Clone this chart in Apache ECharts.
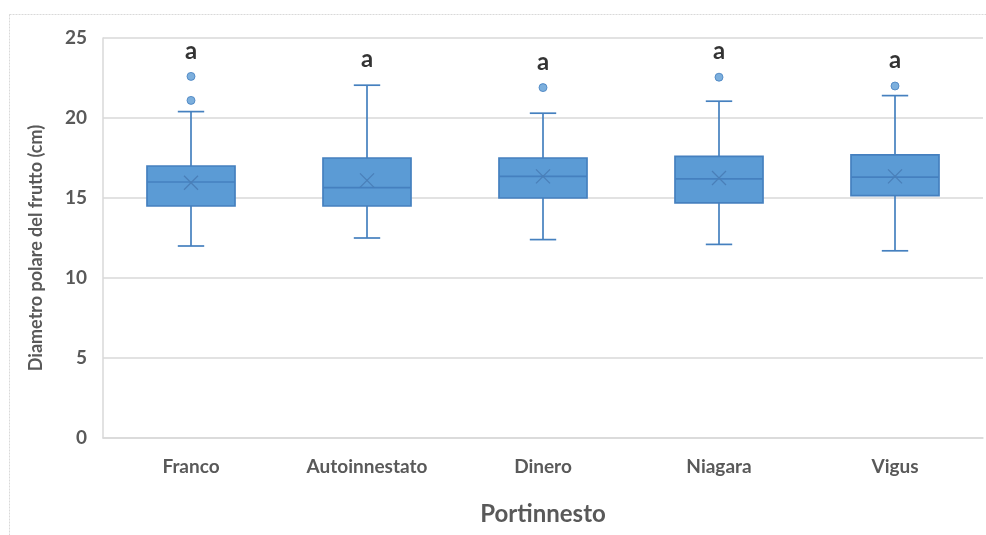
<!DOCTYPE html>
<html>
<head>
<meta charset="utf-8">
<script src="https://cdn.jsdelivr.net/npm/echarts@6/dist/echarts.min.js"></script>
<style>
html,body{margin:0;padding:0;background:#fff;}
#chart{width:986px;height:535px;}
</style>
</head>
<body>
<div id="chart"></div>
<script>
const categories = ['Franco', 'Autoinnestato', 'Dinero', 'Niagara', 'Vigus'];
// [min, Q1, median, Q3, max]
const boxStats = [
  [12.0, 14.5, 16.0, 17.0, 20.4],
  [12.5, 14.5, 15.65, 17.5, 22.05],
  [12.4, 15.0, 16.35, 17.5, 20.3],
  [12.1, 14.7, 16.2, 17.6, 21.05],
  [11.7, 15.15, 16.3, 17.7, 21.4]
];
const means = [15.95, 16.1, 16.35, 16.25, 16.35];
const outliers = [
  [0, 22.6], [0, 21.1],
  [2, 21.9],
  [3, 22.55],
  [4, 22.0]
];
const letters = ['a', 'a', 'a', 'a', 'a'];
const yTicks = { min: 0, max: 25, interval: 5 };

const boxData = categories.map((c, i) => [i].concat(boxStats[i]).concat([means[i]]));
const letterData = categories.map((c, i) => {
  let top = boxStats[i][4];
  outliers.forEach(o => { if (o[0] === i && o[1] > top) top = o[1]; });
  return { value: [i, top], label: { formatter: letters[i] } };
});

const txt = '#595959';
const fontFam = 'Lato, "Open Sans", sans-serif';
const fill = '#5b9bd5';
const stroke = '#4580bf';

const chart = echarts.init(document.getElementById('chart'), null, { renderer: 'canvas' });
chart.setOption({
  backgroundColor: '#fff',
  animation: false,
  graphic: [{
    type: 'rect', left: 7, top: 12, shape: { width: 1000, height: 600 },
    style: { fill: 'none', stroke: '#d9d9d9', lineWidth: 1, lineDash: [2, 1] }, silent: true, z: -10
  }],
  grid: { left: 103, right: 3, top: 38, bottom: 97 },
  xAxis: {
    type: 'category',
    data: categories,
    axisLine: { show: true, lineStyle: { color: '#d9d9d9', width: 1.5 } },
    axisTick: { show: false },
    axisLabel: { color: txt, fontSize: 19, fontWeight: 'bold', fontFamily: fontFam, margin: 19 },
    name: 'Portinnesto',
    nameLocation: 'middle',
    nameGap: 64,
    nameTextStyle: { color: txt, fontSize: 24, fontFamily: fontFam, fontWeight: 'bold' }
  },
  yAxis: {
    type: 'value',
    min: yTicks.min, max: yTicks.max, interval: yTicks.interval,
    axisLine: { show: true, lineStyle: { color: '#d9d9d9', width: 1.5 } },
    axisTick: { show: false },
    splitLine: { lineStyle: { color: '#d9d9d9', width: 1.5 } },
    axisLabel: { color: txt, fontSize: 19, fontWeight: 'bold', fontFamily: fontFam, margin: 16 },
    name: 'Diametro polare del frutto (cm)',
    nameLocation: 'middle',
    nameGap: 58,
    nameTextStyle: { color: txt, fontSize: 18, fontFamily: fontFam, fontWeight: 'bold', padding: [0, 20, 0, 0] }
  },
  series: [
    {
      type: 'custom',
      data: boxData,
      encode: { x: 0, y: [1, 2, 3, 4, 5] },
      z: 3,
      renderItem: function (params, api) {
        const x = api.value(0);
        const pMin = api.coord([x, api.value(1)]);
        const pQ1 = api.coord([x, api.value(2)]);
        const pMed = api.coord([x, api.value(3)]);
        const pQ3 = api.coord([x, api.value(4)]);
        const pMax = api.coord([x, api.value(5)]);
        const pMean = api.coord([x, api.value(6)]);
        const band = api.size([1, 0])[0];
        const hw = band * 0.25;
        const cw = band * 0.075;
        const cx = pMed[0];
        const ls = { stroke: stroke, lineWidth: 1.7, fill: null };
        const xs = 7;
        return {
          type: 'group',
          children: [
            { type: 'line', shape: { x1: cx, y1: pQ3[1], x2: cx, y2: pMax[1] }, style: ls },
            { type: 'line', shape: { x1: cx, y1: pQ1[1], x2: cx, y2: pMin[1] }, style: ls },
            { type: 'line', shape: { x1: cx - cw, y1: pMax[1], x2: cx + cw, y2: pMax[1] }, style: ls },
            { type: 'line', shape: { x1: cx - cw, y1: pMin[1], x2: cx + cw, y2: pMin[1] }, style: ls },
            { type: 'rect', shape: { x: cx - hw, y: pQ3[1], width: hw * 2, height: pQ1[1] - pQ3[1] },
              style: { fill: fill, stroke: stroke, lineWidth: 1.7 } },
            { type: 'line', shape: { x1: cx - hw, y1: pMed[1], x2: cx + hw, y2: pMed[1] }, style: ls },
            { type: 'line', shape: { x1: cx - xs, y1: pMean[1] - xs, x2: cx + xs, y2: pMean[1] + xs }, style: { stroke: '#4a7fb8', lineWidth: 1.3 } },
            { type: 'line', shape: { x1: cx - xs, y1: pMean[1] + xs, x2: cx + xs, y2: pMean[1] - xs }, style: { stroke: '#4a7fb8', lineWidth: 1.3 } }
          ]
        };
      }
    },
    {
      type: 'scatter',
      data: outliers,
      symbol: 'circle',
      symbolSize: 8,
      itemStyle: { color: fill, borderColor: stroke, borderWidth: 1 },
      z: 4
    },
    {
      type: 'scatter',
      data: letterData,
      symbolSize: 1,
      itemStyle: { color: 'rgba(0,0,0,0)' },
      label: {
        show: true, position: 'top', distance: 13,
        color: '#000', fontSize: 24, fontWeight: 'bold', fontFamily: fontFam, lineHeight: 24
      },
      z: 5
    }
  ]
});
</script>
</body>
</html>
